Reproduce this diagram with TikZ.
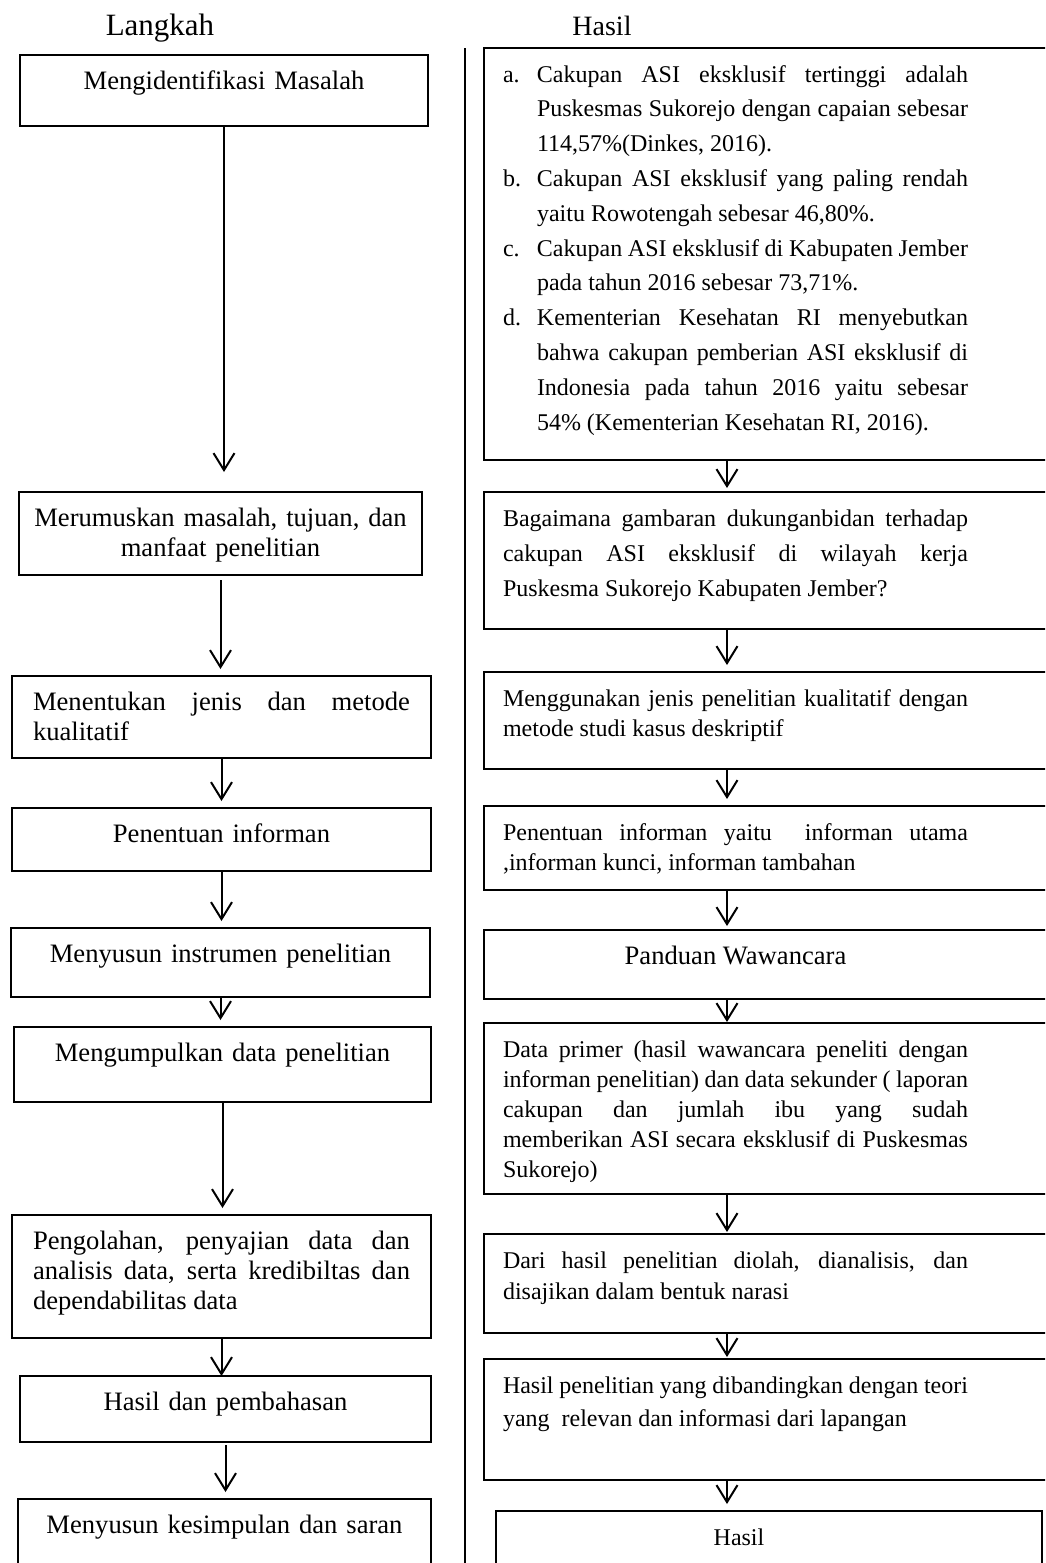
\documentclass[tikz,border=0pt]{standalone}
\usepackage{fontspec}
\setmainfont{Liberation Serif}
\usetikzlibrary{arrows.meta}
\hyphenpenalty=10000
\exhyphenpenalty=10000
\tolerance=10000
\newcommand\butir[2]{\hangindent=17pt\hangafter=1\noindent\makebox[17pt][l]{#1}#2\par}
\tikzset{
	kotak/.style={draw, line width=1.1pt, anchor=north west, inner ysep=0pt, outer sep=0pt, text height=17pt},
	kiri/.style={kotak, inner xsep=10.5pt, align=center, font=\fontsize{13.3}{15}\selectfont},
	kanan/.style={kotak, inner xsep=9.5pt, text width=271pt, align=justify, font=\fontsize{12}{15}\selectfont, execute at begin node={\rightskip=38.5pt\relax}},
	tengah/.style={execute at begin node={\leftskip=0pt plus 1fil\rightskip=#1 plus 1fil\parfillskip=0pt\relax}},
	tengah/.default=38.5pt,
	panah/.style={-{Straight Barb[length=8.5pt,width=10.5pt]}, line width=1pt, shorten >=3.5pt},
	judul/.style={anchor=base, font=\fontsize{15.5}{18}\selectfont}
}

\begin{document}
\begin{tikzpicture}[x=0.5pt, y=-0.5pt]
		\useasboundingbox (0,0) rectangle (1045,1563);
		\clip (0,0) rectangle (1045,1563);
		\fill[white] (0,0) rectangle (1045,1563);
		
		%%%%% JUDUL %%%%%
		
		\node[judul] (langkah) at (160,35) {Langkah};
		\node[judul, font=\fontsize{14}{17}\selectfont] (hasil) at (602,35) {Hasil};
		
		\draw[line width=1pt] (465,48) -- (465,1570);
		
		%%%%% LANGKAH %%%%%
		
		\node[kiri, text width=183pt, text depth=18.5pt] (L1) at (20,55) {Mengidentifikasi Masalah};
		\node[kiri, inner xsep=4pt, text width=193.5pt, text depth=24.5pt] (L2) at (19,492) {Merumuskan masalah, tujuan, dan\\manfaat penelitian};
		\node[kiri, align=justify, text width=188.5pt, text depth=24pt] (L3) at (12,676) {Menentukan jenis dan metode\linebreak kualitatif};
		\node[kiri, text width=188.5pt, text depth=14.5pt] (L4) at (12,808) {Penentuan informan};
		\node[kiri, text width=188.5pt, text depth=17.5pt] (L5) at (11,928) {Menyusun instrumen penelitian};
		\node[kiri, text width=187.5pt, text depth=20.5pt] (L6) at (14,1027) {Mengumpulkan data penelitian};
		\node[kiri, align=justify, text width=188.5pt, text depth=44.5pt] (L7) at (12,1215) {Pengolahan, penyajian data dan\linebreak analisis data, serta kredibiltas dan\linebreak dependabilitas data};
		\node[kiri, text width=184.5pt, text depth=16pt] (L8) at (20,1376) {Hasil dan pembahasan};
		\node[kiri, text width=185.5pt, text depth=33pt] (L9) at (18,1499) {Menyusun kesimpulan dan saran};
		
		\draw[panah, shorten >=10pt] (L1.south) -- (L1.south |- L2.north);
		\draw[panah, shorten <=2.5pt] (L2.south) -- (L2.south |- L3.north);
		\draw[panah] (L3.south) -- (L3.south |- L4.north);
		\draw[panah] (L4.south) -- (L4.south |- L5.north);
		\draw[panah] (L5.south) -- (L5.south |- L6.north);
		\draw[panah] (L6.south) -- (L6.south |- L7.north);
		\draw[panah, shorten >=0pt] (L7.south) -- (L7.south |- L8.north);
		\draw[panah, shorten <=1.5pt] (L8.south) -- (L8.south |- L9.north);
		
		%%%%% HASIL %%%%%
		
		\node[kanan, font=\fontsize{12}{17.4}\selectfont, text depth=189pt] (R1) at (484,48) {%
			\butir{a.}{Cakupan ASI eksklusif tertinggi adalah\linebreak Puskesmas Sukorejo dengan capaian sebesar\linebreak 114,57\%(Dinkes, 2016).}%
			\butir{b.}{Cakupan ASI eksklusif yang paling rendah\linebreak yaitu Rowotengah sebesar 46,80\%.}%
			\butir{c.}{Cakupan ASI eksklusif di Kabupaten Jember\linebreak pada tahun 2016 sebesar 73,71\%.}%
			\butir{d.}{Kementerian Kesehatan RI menyebutkan\linebreak bahwa cakupan pemberian ASI eksklusif di\linebreak Indonesia pada tahun 2016 yaitu sebesar\linebreak 54\% (Kementerian Kesehatan RI, 2016).}};
		\node[kanan, font=\fontsize{12}{17.5}\selectfont, text depth=51.5pt] (R2) at (484,492) {Bagaimana gambaran dukunganbidan terhadap\linebreak cakupan ASI eksklusif di wilayah kerja\linebreak Puskesma Sukorejo Kabupaten Jember?};
		\node[kanan, text depth=31.5pt] (R3) at (484,672) {Menggunakan jenis penelitian kualitatif dengan\linebreak metode studi kasus deskriptif};
		\node[kanan, text depth=25pt] (R4) at (484,806) {Penentuan informan yaitu\ \ informan utama\linebreak ,informan kunci, informan tambahan};
		\node[kanan, tengah, font=\fontsize{13.3}{15}\selectfont, text depth=17.5pt] (R5) at (484,930) {Panduan Wawancara};
		\node[kanan, text depth=68.5pt] (R6) at (484,1023) {Data primer (hasil wawancara peneliti dengan\linebreak informan penelitian) dan data sekunder ( laporan\linebreak cakupan dan jumlah ibu yang sudah\linebreak memberikan ASI secara eksklusif di Puskesmas\linebreak Sukorejo)};
		\node[kanan, font=\fontsize{12}{15.5}\selectfont, text depth=32.5pt] (R7) at (484,1234) {Dari hasil penelitian diolah, dianalisis, dan\linebreak disajikan dalam bentuk narasi};
		\node[kanan, font=\fontsize{12}{16.5}\selectfont, text depth=43.5pt] (R8) at (484,1359) {Hasil penelitian yang dibandingkan dengan teori\linebreak yang\ \ relevan dan informasi dari lapangan};
		\node[kanan, tengah=30pt, text width=254pt, text depth=33pt] (R9) at (496,1511) {Hasil};
		
		\coordinate (poros) at (727,0);
		\draw[panah, shorten >=2pt] (R1.south -| poros) -- (R2.north -| poros);
		\draw[panah] (R2.south -| poros) -- (R3.north -| poros);
		\draw[panah] (R3.south -| poros) -- (R4.north -| poros);
		\draw[panah, shorten >=2pt] (R4.south -| poros) -- (R5.north -| poros);
		\draw[panah, shorten >=0.5pt] (R5.south -| poros) -- (R6.north -| poros);
		\draw[panah, shorten >=1pt] (R6.south -| poros) -- (R7.north -| poros);
		\draw[panah, shorten >=1pt] (R7.south -| poros) -- (R8.north -| poros);
		\draw[panah] (R8.south -| poros) -- (R9.north -| poros);
		
	\end{tikzpicture}
\end{document}
